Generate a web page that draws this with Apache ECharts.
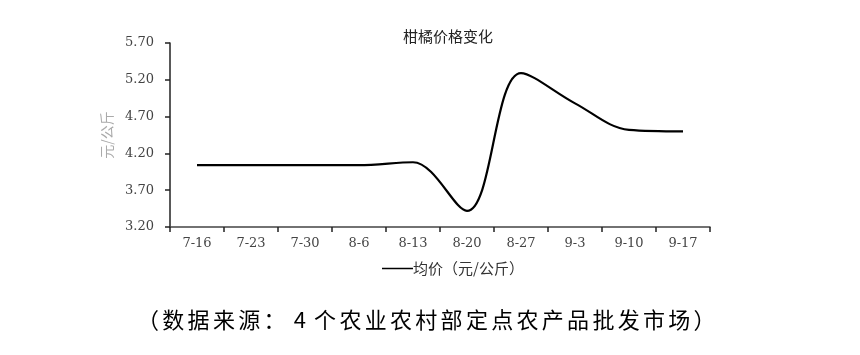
<!DOCTYPE html>
<html><head><meta charset="utf-8">
<script src="https://cdn.jsdelivr.net/npm/echarts@6/dist/echarts.min.js"></script>
<style>html,body{margin:0;padding:0;background:#fff}#c{width:860px;height:355px}</style>
</head><body><div id="c"></div>
<script>
const categories = ['7-16','7-23','7-30','8-6','8-13','8-20','8-27','9-3','9-10','9-17'];
const prices = [4.04, 4.04, 4.04, 4.04, 4.08, 3.42, 5.29, 4.88, 4.52, 4.50];
const yMin = 3.2, yMax = 5.7, yStep = 0.5;
const caption = '（数据来源：4个农业农村部定点农产品批发市场）';
const chart = echarts.init(document.getElementById('c'));
const capRich = Array.from(caption).map(c => '{a|' + c + '}').join('');
chart.setOption({
  animation: false,
  backgroundColor: '#fff',
  title: {
    text: '柑橘价格变化', left: 443, top: 24, textAlign: 'center',
    textStyle: {fontSize: 15, fontWeight: 'normal', color: '#222', fontFamily: 'Noto Sans CJK SC'}
  },
  legend: {
    left: 377, top: 256, itemWidth: 31, itemHeight: 1.5, icon: 'rect', itemGap: 4,
    textStyle: {fontSize: 15, color: '#333', fontFamily: 'Noto Sans CJK SC', padding: [0,0,0,-5]},
    data: ['均价（元/公斤）']
  },
  grid: {left: 170, right: 150, top: 43, bottom: 128},
  xAxis: {
    type: 'category', data: categories, boundaryGap: true,
    axisLine: {lineStyle: {color: '#444', width: 1.5}},
    axisTick: {show: true, length: 5, inside: false, lineStyle: {color: '#222', width: 1.5}},
    axisLabel: {margin: 10, fontSize: 13, color: '#444', fontFamily: 'DejaVu Serif'}
  },
  yAxis: {
    type: 'value', min: yMin, max: yMax, interval: yStep,
    name: '元/公斤', nameLocation: 'middle', nameGap: 52, nameRotate: 90,
    nameTextStyle: {fontSize: 14, color: '#aaa', fontFamily: 'Noto Sans CJK SC'},
    axisLine: {show: true, lineStyle: {color: '#222', width: 1.5}},
    axisTick: {show: true, length: 5, lineStyle: {color: '#222', width: 1.5}},
    splitLine: {show: false},
    axisLabel: {margin: 16, fontSize: 13, color: '#444', fontFamily: 'DejaVu Serif',
      formatter: v => v.toFixed(2)}
  },
  series: [{
    name: '均价（元/公斤）', type: 'line', data: prices, smooth: 0.35,
    showSymbol: false, symbol: 'none',
    lineStyle: {color: '#000', width: 2.2}, itemStyle: {color: '#000'}
  }],
  graphic: [{
    type: 'text', left: 137, top: 309,
    style: {text: capRich, fill: '#000',
      rich: {a: {fontSize: 22, width: 25.3, align: 'center', fontFamily: 'Noto Sans CJK SC', fill: '#000'}}}
  }]
});
</script></body></html>
